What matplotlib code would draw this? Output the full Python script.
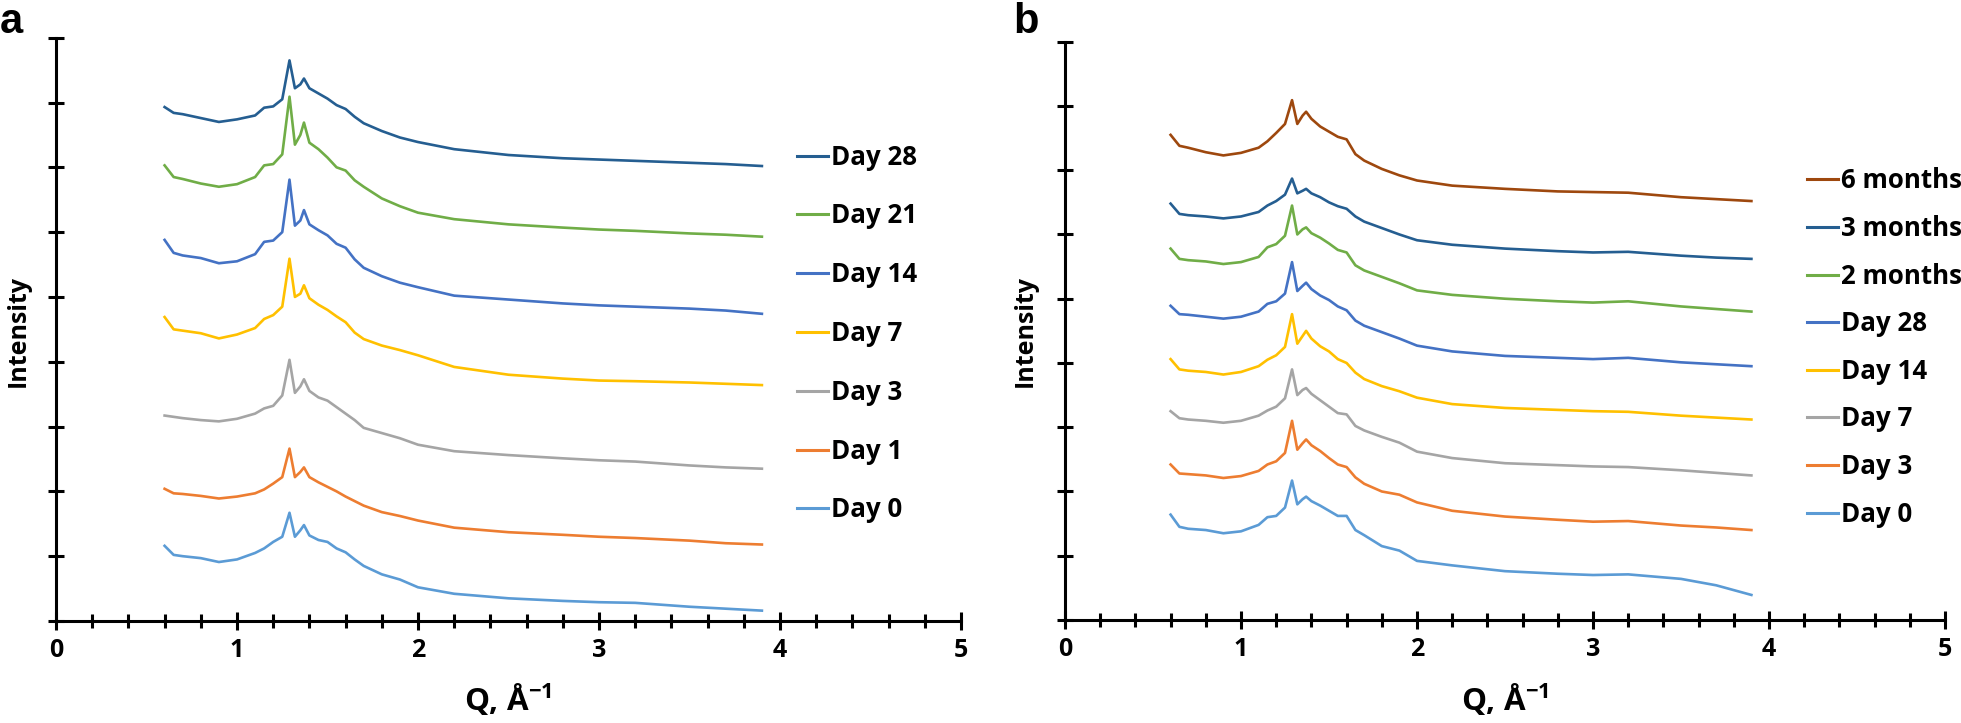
import matplotlib
matplotlib.use("Agg")
import matplotlib.pyplot as plt
from matplotlib.ticker import MultipleLocator

FONT = ['Open Sans', 'DejaVu Sans']
plt.rcParams['font.family'] = FONT
plt.rcParams['font.weight'] = 'bold'
plt.rcParams['mathtext.fontset'] = 'custom'
plt.rcParams['mathtext.rm'] = 'Open Sans:bold'
plt.rcParams['mathtext.it'] = 'Open Sans:bold'
plt.rcParams['mathtext.bf'] = 'Open Sans:bold'
plt.rcParams['mathtext.default'] = 'rm'

# ---------------- data ----------------
q = [0.60, 0.65, 0.70, 0.80, 0.90, 1.00, 1.10, 1.15, 1.20, 1.25, 1.29, 1.32, 1.35, 1.37,
     1.40, 1.45, 1.50, 1.55, 1.60, 1.65, 1.70, 1.80, 1.90, 2.00, 2.20, 2.50, 2.80, 3.00,
     3.20, 3.50, 3.70, 3.90]

# panel a
a_day0 = [1.16, 1.02, 1.00, 0.97, 0.91, 0.95, 1.05, 1.12, 1.22, 1.30, 1.67, 1.30, 1.40, 1.48,
          1.32, 1.25, 1.22, 1.12, 1.06, 0.95, 0.85, 0.72, 0.64, 0.52, 0.42, 0.35, 0.31, 0.29,
          0.28, 0.22, 0.19, 0.16]
a_day1 = [2.04, 1.97, 1.96, 1.93, 1.89, 1.92, 1.97, 2.03, 2.12, 2.22, 2.66, 2.22, 2.30, 2.37,
          2.22, 2.14, 2.07, 2.00, 1.92, 1.85, 1.78, 1.68, 1.62, 1.55, 1.44, 1.37, 1.33, 1.30,
          1.28, 1.24, 1.20, 1.18]
a_day3 = [3.17, 3.15, 3.13, 3.10, 3.08, 3.12, 3.20, 3.28, 3.32, 3.48, 4.03, 3.52, 3.62, 3.73,
          3.55, 3.45, 3.40, 3.30, 3.20, 3.10, 2.98, 2.90, 2.82, 2.72, 2.62, 2.56, 2.51, 2.48,
          2.46, 2.40, 2.37, 2.35]
a_day7 = [4.69, 4.50, 4.48, 4.44, 4.36, 4.42, 4.52, 4.66, 4.72, 4.85, 5.59, 5.00, 5.05, 5.18,
          4.98, 4.88, 4.80, 4.70, 4.61, 4.45, 4.35, 4.25, 4.18, 4.10, 3.92, 3.80, 3.74, 3.71,
          3.70, 3.68, 3.66, 3.64]
a_day14 = [5.88, 5.68, 5.64, 5.60, 5.52, 5.55, 5.66, 5.85, 5.87, 6.00, 6.81, 6.10, 6.18, 6.34,
           6.12, 6.03, 5.95, 5.82, 5.76, 5.58, 5.45, 5.32, 5.22, 5.15, 5.02, 4.96, 4.90, 4.87,
           4.85, 4.82, 4.79, 4.74]
a_day21 = [7.03, 6.85, 6.82, 6.75, 6.70, 6.74, 6.85, 7.03, 7.05, 7.20, 8.09, 7.35, 7.50, 7.69,
           7.38, 7.28, 7.15, 7.00, 6.95, 6.80, 6.70, 6.52, 6.40, 6.30, 6.20, 6.12, 6.07, 6.04,
           6.02, 5.98, 5.96, 5.93]
a_day28 = [7.93, 7.84, 7.82, 7.76, 7.70, 7.74, 7.80, 7.92, 7.94, 8.05, 8.65, 8.22, 8.28, 8.37,
           8.22, 8.14, 8.06, 7.96, 7.90, 7.78, 7.68, 7.56, 7.46, 7.39, 7.28, 7.19, 7.14, 7.12,
           7.10, 7.07, 7.05, 7.02]

# panel b
b_day0 = [1.64, 1.45, 1.42, 1.40, 1.35, 1.38, 1.48, 1.60, 1.62, 1.75, 2.17, 1.80, 1.88, 1.92,
          1.85, 1.78, 1.70, 1.62, 1.62, 1.40, 1.32, 1.15, 1.08, 0.92, 0.85, 0.76, 0.72, 0.70,
          0.71, 0.64, 0.54, 0.39]
b_day3 = [2.42, 2.28, 2.27, 2.25, 2.21, 2.24, 2.32, 2.42, 2.47, 2.60, 3.10, 2.65, 2.75, 2.81,
          2.72, 2.63, 2.52, 2.42, 2.38, 2.22, 2.12, 2.00, 1.95, 1.83, 1.70, 1.61, 1.56, 1.53,
          1.54, 1.47, 1.44, 1.40]
b_day7 = [3.25, 3.14, 3.12, 3.10, 3.07, 3.10, 3.18, 3.26, 3.32, 3.45, 3.90, 3.50, 3.58, 3.61,
          3.52, 3.42, 3.32, 3.22, 3.20, 3.02, 2.95, 2.85, 2.76, 2.62, 2.52, 2.44, 2.41, 2.39,
          2.38, 2.33, 2.29, 2.25]
b_day14 = [4.06, 3.90, 3.88, 3.86, 3.82, 3.86, 3.95, 4.05, 4.12, 4.25, 4.76, 4.30, 4.42, 4.50,
           4.38, 4.26, 4.18, 4.06, 4.00, 3.85, 3.75, 3.64, 3.56, 3.46, 3.36, 3.30, 3.27, 3.25,
           3.24, 3.18, 3.15, 3.12]
b_day28 = [4.89, 4.76, 4.75, 4.72, 4.69, 4.72, 4.80, 4.92, 4.96, 5.08, 5.57, 5.12, 5.20, 5.25,
           5.15, 5.05, 4.98, 4.88, 4.82, 4.66, 4.58, 4.48, 4.38, 4.27, 4.18, 4.11, 4.08, 4.06,
           4.08, 4.01, 3.98, 3.95]
b_2months = [5.78, 5.62, 5.60, 5.58, 5.54, 5.57, 5.65, 5.80, 5.85, 5.98, 6.45, 6.00, 6.08, 6.11,
             6.02, 5.95, 5.86, 5.76, 5.72, 5.52, 5.44, 5.34, 5.24, 5.13, 5.06, 5.00, 4.96, 4.94,
             4.96, 4.88, 4.84, 4.80]
b_3months = [6.48, 6.32, 6.30, 6.28, 6.25, 6.28, 6.35, 6.45, 6.52, 6.62, 6.87, 6.64, 6.68, 6.71,
             6.64, 6.58, 6.50, 6.44, 6.40, 6.28, 6.20, 6.10, 6.00, 5.91, 5.84, 5.78, 5.74, 5.72,
             5.73, 5.67, 5.64, 5.62]
b_6months = [7.55, 7.38, 7.35, 7.28, 7.23, 7.27, 7.35, 7.45, 7.58, 7.72, 8.09, 7.72, 7.85, 7.91,
             7.80, 7.68, 7.60, 7.52, 7.48, 7.25, 7.15, 7.02, 6.92, 6.84, 6.76, 6.71, 6.67, 6.66,
             6.65, 6.58, 6.55, 6.52]

a_labels = ["Day 28", "Day 21", "Day 14", "Day 7", "Day 3", "Day 1", "Day 0"]
a_series = [a_day28, a_day21, a_day14, a_day7, a_day3, a_day1, a_day0]
a_colors = ["#255E91", "#70AD47", "#4472C4", "#FFC000", "#A5A5A5", "#ED7D31", "#5B9BD5"]

b_labels = ["6 months", "3 months", "2 months", "Day 28", "Day 14", "Day 7", "Day 3", "Day 0"]
b_series = [b_6months, b_3months, b_2months, b_day28, b_day14, b_day7, b_day3, b_day0]
b_colors = ["#9E480E", "#255E91", "#70AD47", "#4472C4", "#FFC000", "#A5A5A5", "#ED7D31", "#5B9BD5"]

xticks = [0, 1, 2, 3, 4, 5]

# ---------------- figure ----------------
W, H = 1961, 723
DPI = 100
fig = plt.figure(figsize=(W / DPI, H / DPI), dpi=DPI)

def fx(px):
    return px / W

def fy(py):
    return 1 - py / H

def fit_size(s, target_px, **kw):
    t = fig.text(0.3, 0.5, s, fontsize=20, **kw)
    fig.canvas.draw()
    bb = t.get_window_extent(fig.canvas.get_renderer())
    t.remove()
    return 20 * target_px / bb.width

LEG_FS = fit_size("Day 28", 86, fontweight="bold")
YLAB_FS = fit_size("Intensity", 112, fontweight="bold")
XLAB_FS = fit_size("Q, Å$^{-1}$", 88, fontweight="bold")
TICK_FS = 18

ax_a = fig.add_axes([fx(56), fy(621), fx(961) - fx(56), fy(37.7) - fy(621)])
ax_b = fig.add_axes([fx(1065), fy(620), fx(1945) - fx(1065), fy(41.7) - fy(620)])

def style(ax):
    ax.set_xlim(0, 5)
    ax.set_ylim(0, 9)
    for s in ["top", "right"]:
        ax.spines[s].set_visible(False)
    for s in ["left", "bottom"]:
        ax.spines[s].set_linewidth(2.2)
        ax.spines[s].set_color("black")
    ax.set_xticks(xticks)
    ax.set_xticklabels([str(t) for t in xticks], fontweight="bold", fontsize=TICK_FS)
    ax.xaxis.set_minor_locator(MultipleLocator(0.2))
    ax.yaxis.set_major_locator(MultipleLocator(1))
    ax.set_yticklabels([])
    ax.tick_params(axis="x", which="major", direction="inout", length=13, width=2.2, pad=6)
    ax.tick_params(axis="x", which="minor", direction="inout", length=10, width=2.2)
    ax.tick_params(axis="y", which="major", direction="inout", length=12, width=2.2)

for ax, series, labels, colors in [
    (ax_a, a_series, a_labels, a_colors),
    (ax_b, b_series, b_labels, b_colors),
]:
    style(ax)
    for ys, lab, col in zip(series, labels, colors):
        ax.plot(q, ys, color=col, lw=1.9, label=lab, solid_joinstyle="round")

fs_px = LEG_FS * DPI / 72.0

def make_legend(ax, anchor, spacing_target):
    ls = 1.4
    leg = None
    for _ in range(4):
        if leg is not None:
            leg.remove()
        leg = ax.legend(bbox_to_anchor=anchor, bbox_transform=fig.transFigure,
                        frameon=False, loc="center left",
                        handlelength=31 / fs_px, handletextpad=3 / fs_px,
                        borderpad=0, borderaxespad=0, labelspacing=ls,
                        prop={"family": FONT, "weight": "bold", "size": LEG_FS})
        fig.canvas.draw()
        r = fig.canvas.get_renderer()
        ys = [t.get_window_extent(r).y0 for t in leg.get_texts()]
        n = len(ys)
        actual = (ys[0] - ys[-1]) / (n - 1)
        ls += (spacing_target - actual) / fs_px
    for h in leg.get_lines():
        h.set_linewidth(2.2)
    return leg

make_legend(ax_a, (fx(797), fy(333.5)), 58.8)
make_legend(ax_b, (fx(1807), fy(347.5)), 47.6)

# axis labels
for cx in (508, 1505):
    fig.text(fx(cx), fy(700), "Q, Å$^{-1}$", ha="center", va="center",
             fontsize=XLAB_FS, fontweight="bold")
for cx in (18, 1025):
    fig.text(fx(cx), fy(331), "Intensity", rotation=90, ha="center", va="center",
             fontsize=YLAB_FS, fontweight="bold")

# panel letters
fig.text(fx(0), fy(2), "a", ha="left", va="top", fontsize=30, fontweight="bold",
         family=["Liberation Sans", "DejaVu Sans"])
fig.text(fx(1013), fy(2), "b", ha="left", va="top", fontsize=30, fontweight="bold",
         family=["Liberation Sans", "DejaVu Sans"])

fig.savefig("out.png", dpi=DPI)
